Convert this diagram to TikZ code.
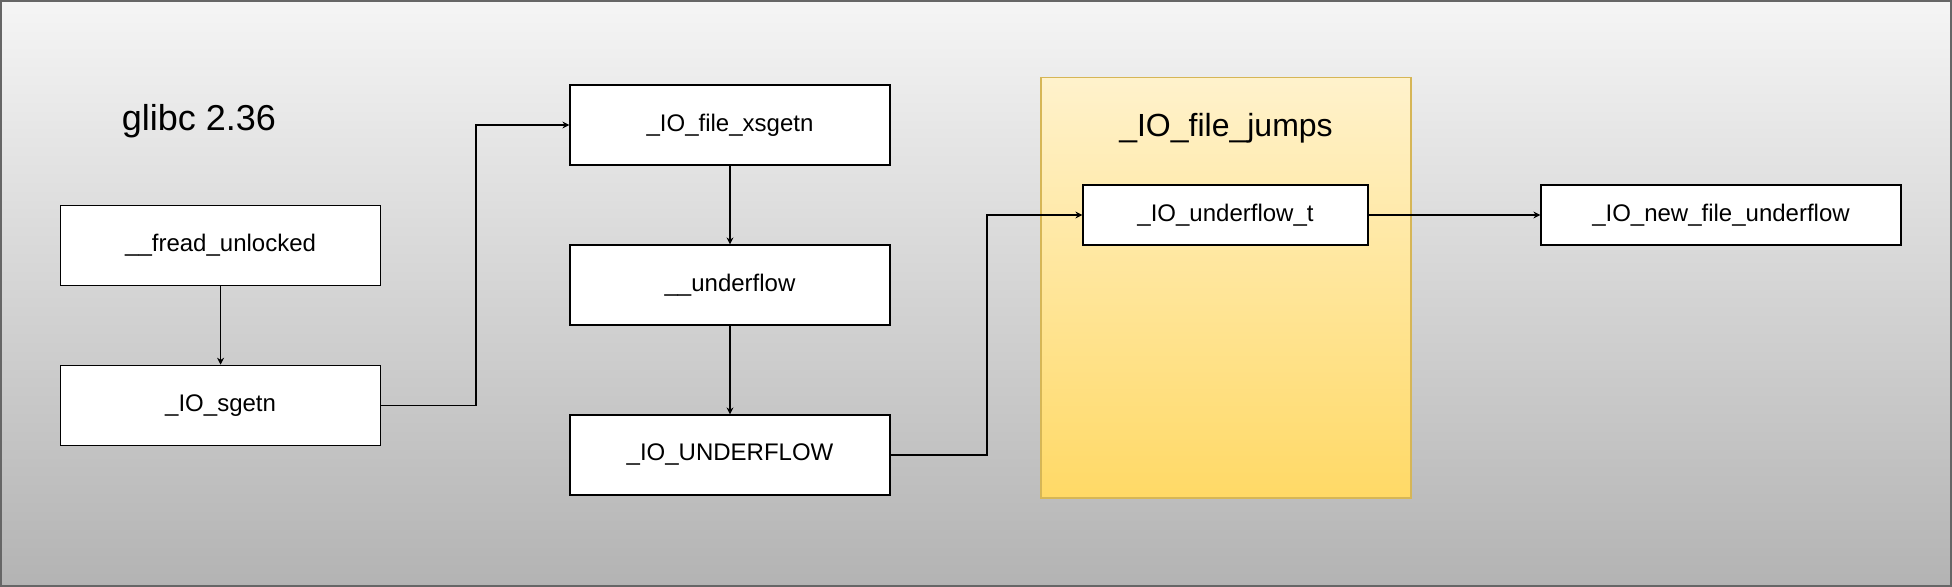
\documentclass[tikz,border=0pt]{standalone}
\usepackage{fontspec}
\setmainfont{Liberation Sans}
\usetikzlibrary{arrows.meta,calc}
\definecolor{bgtop}{HTML}{F5F5F5}
\definecolor{bgbot}{HTML}{B3B3B3}
\definecolor{bgline}{HTML}{666666}
\definecolor{yeltop}{HTML}{FFF2CC}
\definecolor{yelbot}{HTML}{FFD966}
\definecolor{yelline}{HTML}{D6B656}
\begin{document}
\begin{tikzpicture}[x=0.5pt,y=-0.5pt,
  fbox/.style={draw=black,fill=white,line width=0.6pt,minimum width=160pt,minimum height=40pt,inner sep=0pt,font=\fontsize{12}{14}\selectfont},
  arr/.style={draw=black,line width=0.6pt,-{Stealth[length=3.5pt,width=3.5pt]}},
  big/.style={inner sep=0pt}]
\useasboundingbox (0,0) rectangle (1952,587);
\shade[top color=bgtop,bottom color=bgbot] (0,0) rectangle (1952,587);
\draw[bgline,line width=0.8pt] (0.8,0.8) rectangle (1951.2,586.2);
% yellow container
\shade[top color=yeltop,bottom color=yelbot] (1041,77.5) rectangle (1411,498);
\draw[yelline,line width=0.6pt] (1041,77.5) rectangle (1411,498);
\node[big,font=\fontsize{16}{19}\selectfont] (title) at (1226,128) {\_IO\_file\_jumps};
\node[big,font=\fontsize{18}{21}\selectfont] (glibc) at (199,121) {glibc 2.36};
% boxes
\node[fbox] (fread) at (220.6,245.5) {\_\_fread\_unlocked};
\node[fbox] (sgetn) at (220.6,405.3) {\_IO\_sgetn};
\node[fbox] (xsgetn) at (730,125) {\_IO\_file\_xsgetn};
\node[fbox] (uflow) at (730,285) {\_\_underflow};
\node[fbox] (UFLOW) at (730,455) {\_IO\_UNDERFLOW};
\node[fbox,minimum width=142.5pt,minimum height=30pt] (uflowt) at (1225.5,215) {\_IO\_underflow\_t};
\node[fbox,minimum width=180pt,minimum height=30pt] (newuf) at (1721,215) {\_IO\_new\_file\_underflow};
% connectors
\coordinate (c1) at (476,0);
\coordinate (c2) at (987,0);
\draw[arr] (fread.south) -- (sgetn.north);
\draw[arr] (sgetn.east) -- (sgetn.east -| c1) -- (c1 |- xsgetn.west) -- (xsgetn.west);
\draw[arr] (xsgetn.south) -- (uflow.north);
\draw[arr] (uflow.south) -- (UFLOW.north);
\draw[arr] (UFLOW.east) -- (UFLOW.east -| c2) -- (c2 |- uflowt.west) -- (uflowt.west);
\draw[arr] (uflowt.east) -- (newuf.west);
\end{tikzpicture}
\end{document}
